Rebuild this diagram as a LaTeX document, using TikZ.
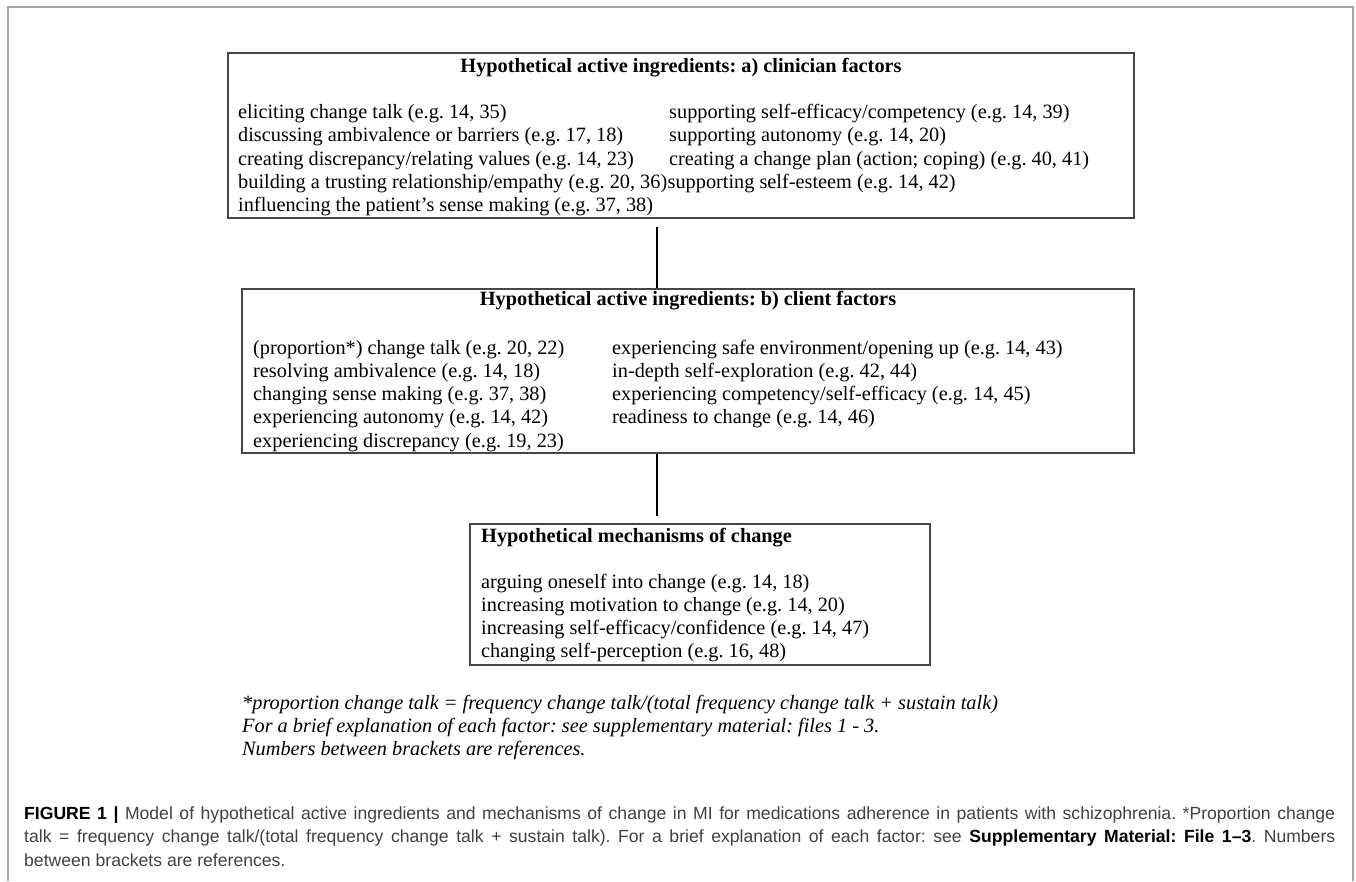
\documentclass[tikz,border=0pt]{standalone}
\usepackage{fontspec}
\setmainfont{Liberation Serif}
\setsansfont{Liberation Sans}
\usetikzlibrary{positioning,calc}
\definecolor{FrameGray}{RGB}{165,165,165}
\definecolor{BoxGray}{RGB}{70,70,70}
\definecolor{CapGray}{RGB}{64,64,64}
\frenchspacing
\tikzset{panel/.style={draw=BoxGray,line width=1.3pt,inner sep=0pt}, row/.style={anchor=base west,inner sep=0pt,font=\fontsize{20.3}{23.3}\selectfont}, head/.style={row,font=\fontsize{20.3}{23.3}\selectfont\bfseries}, link/.style={draw=black,line width=1.6pt}, note/.style={anchor=base west,inner sep=0pt,font=\fontsize{20.3}{23}\selectfont\itshape}}

\begin{document}
\begin{tikzpicture}[x=1pt,y=-1pt]
\useasboundingbox (0,0) rectangle (1356,881);
\draw[FrameGray,line width=1.4pt] (8,881) -- (8,7) -- (1353,7) -- (1353,881);
\coordinate (lk) at (657,0);
\node[panel,minimum width=906pt,minimum height=165pt] (clin) at (681,135.5) {};
\node[panel,minimum width=892pt,minimum height=164pt] (client) at (688,371) {};
\node[panel,minimum width=460pt,minimum height=141pt] (mech) at (700,594.5) {};
\draw[link] ($(clin.south -| lk)+(0,8)$) -- (client.north -| lk);
\draw[link] (client.south -| lk) -- ($(mech.north -| lk)+(0,-7)$);
% a) clinician factors
\node[head,anchor=base] (cltitle) at ($(clin.north)+(0,20)$) {Hypothetical active ingredients: a) clinician factors};
\node[row] (cl1) at (238,118.5) {eliciting change talk (e.g. 14, 35)};
\node[row] (cl2) at (238,141.8) {discussing ambivalence or barriers (e.g. 17, 18)};
\node[row] (cl3) at (238,165.1) {creating discrepancy/relating values (e.g. 14, 23)};
\node[row] (cl4) at (238,188.4) {building a trusting relationship/empathy (e.g. 20, 36)};
\node[row] (cl5) at (238,211.7) {influencing the patient’s sense making (e.g. 37, 38)};
\node[row] (cr1) at (669,118.5) {supporting self-efficacy/competency (e.g. 14, 39)};
\node[row] (cr2) at (669,141.8) {supporting autonomy (e.g. 14, 20)};
\node[row] (cr3) at (669,165.1) {creating a change plan (action; coping) (e.g. 40, 41)};
\node[row] (cr4) at (cl4.base east) {supporting self-esteem (e.g. 14, 42)};
% b) client factors
\node[head,anchor=base] (kltitle) at ($(client.north)+(0,17)$) {Hypothetical active ingredients: b) client factors};
\node[row] (kl1) at (253,354) {(proportion*) change talk (e.g. 20, 22)};
\node[row] (kl2) at (253,377.3) {resolving ambivalence (e.g. 14, 18)};
\node[row] (kl3) at (253,400.6) {changing sense making (e.g. 37, 38)};
\node[row] (kl4) at (253,423.9) {experiencing autonomy (e.g. 14, 42)};
\node[row] (kl5) at (253,447.2) {experiencing discrepancy (e.g. 19, 23)};
\node[row] (kr1) at (612,354) {experiencing safe environment/opening up (e.g. 14, 43)};
\node[row] (kr2) at (612,377.3) {in-depth self-exploration (e.g. 42, 44)};
\node[row] (kr3) at (612,400.6) {experiencing competency/self-efficacy (e.g. 14, 45)};
\node[row] (kr4) at (612,423.9) {readiness to change (e.g. 14, 46)};
% mechanisms
\node[head] (mtitle) at (481,542) {Hypothetical mechanisms of change};
\node[row] (m1) at (481,588) {arguing oneself into change (e.g. 14, 18)};
\node[row] (m2) at (481,611.3) {increasing motivation to change (e.g. 14, 20)};
\node[row] (m3) at (481,634.6) {increasing self-efficacy/confidence (e.g. 14, 47)};
\node[row] (m4) at (481,657.9) {changing self-perception (e.g. 16, 48)};
% notes
\node[note] (fn1) at (242,709) {*proportion change talk = frequency change talk/(total frequency change talk + sustain talk)};
\node[note] (fn2) at (242,732) {For a brief explanation of each factor: see supplementary material: files 1 - 3.};
\node[note] (fn3) at (242,755) {Numbers between brackets are references.};
% caption
\node[anchor=base west,inner sep=0pt,text width=1311pt,align=justify,text=CapGray,font=\sffamily\fontsize{17.6}{23.5}\selectfont] (cap) at (24,819) {\textcolor{black}{\textbf{FIGURE 1 |}} Model of hypothetical active ingredients and mechanisms of change in MI for medications adherence in patients with schizophrenia. *Proportion change\linebreak talk = frequency change talk/(total frequency change talk + sustain talk). For a brief explanation of each factor: see \textcolor{black}{\textbf{Supplementary Material: File 1–3}}. Numbers\linebreak between brackets are references.};
\end{tikzpicture}
\end{document}
